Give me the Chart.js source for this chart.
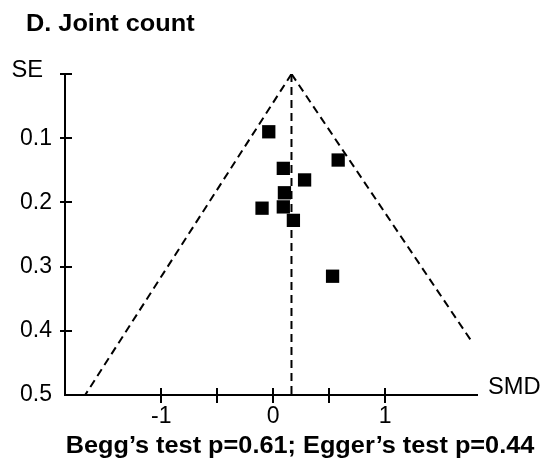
<!DOCTYPE html>
<html>
<head>
<meta charset="utf-8">
<script src="https://cdn.jsdelivr.net/npm/chart.js@4.4.0/dist/chart.umd.min.js"></script>
<style>
  body { margin: 0; background: #fff; }
  canvas { display: block; }
</style>
</head>
<body>
<canvas id="funnel" width="545" height="462"></canvas>
<script>
// each study: standardised mean difference and its standard error
const smd = [-0.04, 0.58, 0.09, 0.28, 0.10, -0.10, 0.09, 0.18, 0.53];
const se = [0.090, 0.134, 0.147, 0.165, 0.185, 0.209, 0.207, 0.228, 0.315];

// pooled estimate and the edges of the funnel
const pooled = 0.163;
const funnelLeft = [{ x: pooled, y: 0 }, { x: -1.68, y: 0.5 }];
const funnelRight = [{ x: pooled, y: 0 }, { x: 1.77, y: 0.416 }];
const pooledLine = [{ x: pooled, y: 0 }, { x: pooled, y: 0.5 }];

const xTicks = [-1, -0.5, 0, 0.5, 1];
const xLabels = ["-1", "", "0", "", "1"];
const yTicks = [0, 0.1, 0.2, 0.3, 0.4, 0.5];
const yLabels = ["", "0.1", "0.2", "0.3", "0.4", "0.5"];

const titleText = "D. Joint count";
const noteText = "Begg’s test p=0.61; Egger’s test p=0.44";
const yName = "SE";
const xName = "SMD";

const family = "'Liberation Sans', Arial, sans-serif";

// text in the original figure is a bit wider than Arial, so stretch it
function stretchText(ctx, text, x, y, font, sx, align) {
  ctx.save();
  ctx.font = font;
  ctx.textBaseline = "alphabetic";
  ctx.textAlign = "left";
  const w = ctx.measureText(text).width * sx;
  let left = x;
  if (align === "center") left = x - w / 2;
  if (align === "right") left = x - w;
  ctx.translate(left, y);
  ctx.scale(sx, 1);
  ctx.fillText(text, 0, 0);
  ctx.restore();
}

const decor = {
  id: "decor",
  afterDraw(chart) {
    const ctx = chart.ctx;
    const xs = chart.scales.x;
    const ys = chart.scales.y;
    ctx.save();
    ctx.strokeStyle = "#000";
    ctx.lineWidth = 2;
    ctx.beginPath();
    // tick marks cross the axis lines
    xTicks.forEach((v) => {
      const px = Math.round(xs.getPixelForValue(v));
      ctx.moveTo(px, ys.bottom - 7);
      ctx.lineTo(px, ys.bottom + 8);
    });
    yTicks.forEach((v) => {
      if (v >= ys.max) return;
      const py = Math.round(ys.getPixelForValue(v));
      ctx.moveTo(xs.left - 5, py);
      ctx.lineTo(xs.left + 7, py);
    });
    ctx.stroke();
    ctx.fillStyle = "#000";
    stretchText(ctx, titleText, 26, 31, "bold 23px " + family, 1.1, "left");
    stretchText(ctx, yName, 43, 77, "23px " + family, 1.03, "right");
    stretchText(ctx, xName, 488, 394, "23px " + family, 1.03, "left");
    stretchText(ctx, noteText, 300, 453, "bold 23px " + family, 1.1, "center");
    ctx.restore();
  }
};

const lineStyle = {
  showLine: true,
  pointRadius: 0,
  borderColor: "#000",
  borderWidth: 2,
  borderDash: [8, 5],
  fill: false
};

new Chart(document.getElementById("funnel").getContext("2d"), {
  type: "scatter",
  data: {
    datasets: [
      Object.assign({ data: funnelLeft }, lineStyle),
      Object.assign({ data: funnelRight }, lineStyle),
      Object.assign({ data: pooledLine }, lineStyle),
      {
        data: smd.map((x, i) => ({ x: x, y: se[i] })),
        pointStyle: "rect",
        pointRadius: 9.4,
        backgroundColor: "#000",
        borderWidth: 0
      }
    ]
  },
  options: {
    responsive: false,
    animation: false,
    layout: { padding: { top: 74, right: 68, bottom: 0, left: 0 } },
    plugins: { legend: { display: false }, tooltip: { enabled: false }, title: { display: false } },
    scales: {
      x: {
        type: "linear",
        min: -1.86,
        max: 1.82,
        afterBuildTicks: (s) => { s.ticks = xTicks.map((v) => ({ value: v })); },
        afterFit: (s) => { s.height = 67; },
        ticks: {
          callback: (v, i) => xLabels[i],
          font: { size: 23, family: family },
          color: "#000",
          padding: 8,
          maxRotation: 0,
          autoSkip: false
        },
        grid: { display: false, drawTicks: false },
        border: { display: true, color: "#000", width: 2 }
      },
      y: {
        type: "linear",
        reverse: true,
        min: 0,
        max: 0.5,
        afterBuildTicks: (s) => { s.ticks = yTicks.map((v) => ({ value: v })); },
        afterFit: (s) => { s.width = 65; },
        ticks: {
          callback: (v, i) => yLabels[i],
          font: { size: 23, family: family },
          color: "#000",
          padding: 13,
          autoSkip: false
        },
        grid: { display: false, drawTicks: false },
        border: { display: true, color: "#000", width: 2 }
      }
    }
  },
  plugins: [decor]
});
</script>
</body>
</html>
